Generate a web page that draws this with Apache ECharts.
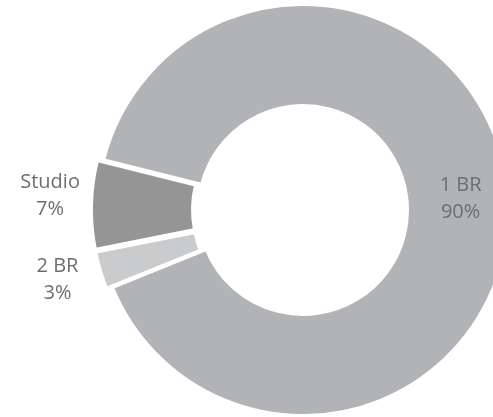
<!DOCTYPE html>
<html>
<head>
<meta charset="utf-8">
<script src="https://cdn.jsdelivr.net/npm/echarts@6/dist/echarts.min.js"></script>
<style>
  html, body { margin: 0; padding: 0; background: #fff; }
  #chart { width: 493px; height: 417px; }
</style>
</head>
<body>
<div id="chart"></div>
<script>
const categories = ['1 BR', 'Studio', '2 BR'];
const shares = [90, 7, 3];
const colors = ['#b1b3b6', '#959595', '#cacbcc'];
const exploded = [false, true, true];
const labelInside = [true, false, false];

// nudges for the two small slices' labels (Excel "best fit")
const labelNudge = [[0, 0], [9, -9], [7, 5]];

const chart = echarts.init(document.getElementById('chart'));

chart.setOption({
  animation: false,
  series: [{
    type: 'pie',
    center: [303, 210],
    radius: [104, 206],
    startAngle: 202,
    clockwise: false,
    selectedMode: 'multiple',
    selectedOffset: 6,
    emphasis: { disabled: true },
    itemStyle: { borderColor: '#fff', borderWidth: 4 },
    label: {
      show: true,
      formatter: p => p.name + '\n' + p.value + '%',
      color: '#6d6e71',
      fontFamily: 'Open Sans',
      fontSize: 20,
      lineHeight: 27,
      align: 'center',
      overflow: 'none'
    },
    labelLine: { show: false },
    labelLayout: p => {
      if (p.dataIndex === 0) return {};
      const n = labelNudge[p.dataIndex];
      return { dx: n[0], dy: n[1], align: 'center' };
    },
    data: categories.map((c, i) => ({
      name: c,
      value: shares[i],
      selected: exploded[i],
      itemStyle: { color: colors[i] },
      label: { position: labelInside[i] ? 'inside' : 'outside' }
    }))
  }]
});
</script>
</body>
</html>
